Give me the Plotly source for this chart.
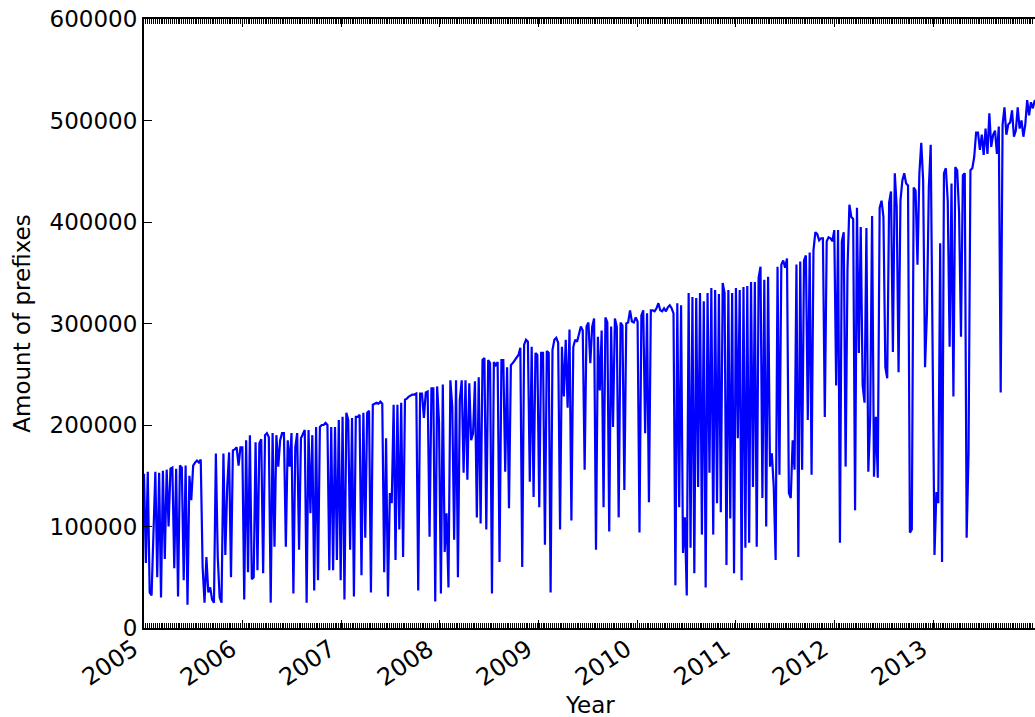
import pandas as pd
import plotly.graph_objects as go

# Amount of prefixes (thousands), one reading per week, grouped by year
y2005 = [152, 64, 154, 35, 32, 100, 154, 50, 153, 30, 155, 68, 156, 100, 157, 158, 59, 157, 31, 160,
         158, 47, 160, 23, 150, 126, 160, 163, 165, 163, 166, 60, 25, 70, 35, 40, 28, 25, 172, 70,
         30, 25, 172, 72, 139, 173, 50, 175, 176, 178, 160, 178]
y2006 = [178, 28, 185, 55, 190, 48, 50, 183, 57, 182, 186, 54, 190, 192, 188, 25, 192, 80, 190, 159,
         185, 192, 192, 80, 185, 159, 192, 34, 178, 192, 77, 187, 192, 195, 25, 195, 113, 190, 37, 198,
         47, 198, 200, 200, 202, 200, 57, 198, 57, 198, 67, 205]
y2007 = [47, 208, 28, 212, 205, 77, 207, 31, 208, 208, 210, 52, 212, 89, 212, 214, 35, 220, 221, 222,
         221, 223, 221, 55, 187, 31, 133, 123, 220, 67, 220, 97, 222, 70, 225, 226, 228, 229, 230, 230,
         231, 37, 231, 231, 207, 232, 233, 90, 236, 236, 26, 238]
y2008 = [203, 34, 240, 75, 113, 40, 244, 218, 87, 244, 50, 225, 244, 153, 244, 146, 241, 185, 192, 243,
         109, 247, 103, 264, 266, 97, 264, 261, 34, 262, 259, 262, 65, 264, 264, 154, 257, 118, 259, 261,
         264, 266, 269, 276, 60, 279, 284, 282, 144, 277, 129, 271]
y2009 = [269, 119, 271, 271, 82, 273, 271, 35, 274, 284, 286, 281, 97, 277, 228, 284, 217, 294, 106, 277,
         284, 282, 290, 297, 293, 156, 297, 301, 261, 297, 305, 77, 287, 234, 293, 119, 306, 301, 95, 297,
         198, 305, 297, 109, 301, 298, 136, 300, 301, 313, 302, 301]
y2010 = [306, 302, 94, 308, 313, 192, 310, 124, 313, 313, 312, 315, 320, 313, 312, 315, 312, 316, 318, 315,
         310, 42, 320, 119, 318, 74, 109, 32, 330, 79, 326, 54, 325, 139, 330, 92, 322, 40, 330, 153,
         335, 92, 333, 123, 329, 114, 340, 330, 62, 333, 108, 330]
y2011 = [54, 335, 187, 333, 47, 336, 79, 337, 84, 341, 139, 341, 80, 345, 356, 128, 343, 100, 346, 159,
         172, 139, 67, 356, 151, 358, 362, 355, 364, 133, 128, 185, 156, 358, 70, 361, 156, 362, 367, 205,
         370, 151, 372, 390, 388, 382, 384, 384, 208, 381, 385, 384]
y2012 = [381, 392, 239, 392, 84, 381, 390, 159, 354, 417, 405, 403, 116, 414, 271, 395, 239, 222, 394, 154,
         208, 406, 149, 208, 148, 414, 421, 405, 257, 246, 419, 430, 272, 448, 415, 252, 421, 441, 448, 438,
         436, 94, 97, 434, 431, 358, 448, 478, 441, 257, 310, 434]
y2013 = [476, 225, 72, 134, 123, 379, 65, 448, 453, 421, 277, 438, 228, 454, 451, 409, 287, 446, 448, 89,
         173, 451, 453, 464, 488, 488, 471, 486, 466, 492, 467, 507, 474, 486, 490, 467, 494, 232, 496, 513,
         486, 496, 498, 510, 484, 490, 513, 492, 500, 484, 496, 520]
y2014 = [505, 518, 512, 520, 515]

y_ticks = [0, 100000, 200000, 300000, 400000, 500000, 600000]
year_ticks = ["2005", "2006", "2007", "2008", "2009", "2010", "2011", "2012", "2013"]
x_label = "Year"
y_label = "Amount of prefixes"

values_k = y2005 + y2006 + y2007 + y2008 + y2009 + y2010 + y2011 + y2012 + y2013 + y2014
values = [v * 1000 for v in values_k]
dates = pd.date_range("2005-01-01", periods=len(values), freq="7D")

fig = go.Figure()
fig.add_trace(go.Scatter(x=dates, y=values, mode="lines",
                         line=dict(color="#0000ff", width=2.2), showlegend=False))

font_family = "DejaVu Sans"
fig.update_layout(
    width=1035, height=717,
    margin=dict(l=144, r=0, t=19, b=89),
    plot_bgcolor="white", paper_bgcolor="white",
    font=dict(family=font_family, size=23, color="black"),
)
fig.update_xaxes(
    range=["2005-01-01", "2014-01-12"],
    tickvals=[f"{y}-01-01" for y in year_ticks],
    showticklabels=False, automargin=False,
    showgrid=False, zeroline=False,
    showline=True, linecolor="black", linewidth=2, mirror="allticks",
    ticks="inside", ticklen=8, tickwidth=1, tickcolor="black",
    minor=dict(dtick=7 * 86400000, tick0="2005-01-01", ticks="inside", ticklen=5,
               tickwidth=1, tickcolor="black", showgrid=False),
)
fig.update_yaxes(
    range=[0, 600000], tickvals=y_ticks, tickformat="d", automargin=False,
    showgrid=False, zeroline=False,
    showline=True, linecolor="black", linewidth=2, mirror=False,
    ticks="inside", ticklen=8, tickwidth=1, tickcolor="black",
    title=dict(text=y_label, font=dict(size=23), standoff=13),
    tickfont=dict(size=23),
)

# rotated year labels (right end anchored at the tick, like the original)
for y in year_ticks:
    fig.add_annotation(x=f"{y}-01-01", xref="x", y=0, yref="paper",
                       text=y, textangle=-34, showarrow=False,
                       xanchor="right", yanchor="top", xshift=2, yshift=-4,
                       font=dict(family=font_family, size=24, color="black"))
fig.add_annotation(x=0.5, xref="paper", y=0, yref="paper", text=x_label,
                   showarrow=False, xanchor="center", yanchor="middle", yshift=-77,
                   font=dict(family=font_family, size=23, color="black"))

fig.write_html("out.html")
